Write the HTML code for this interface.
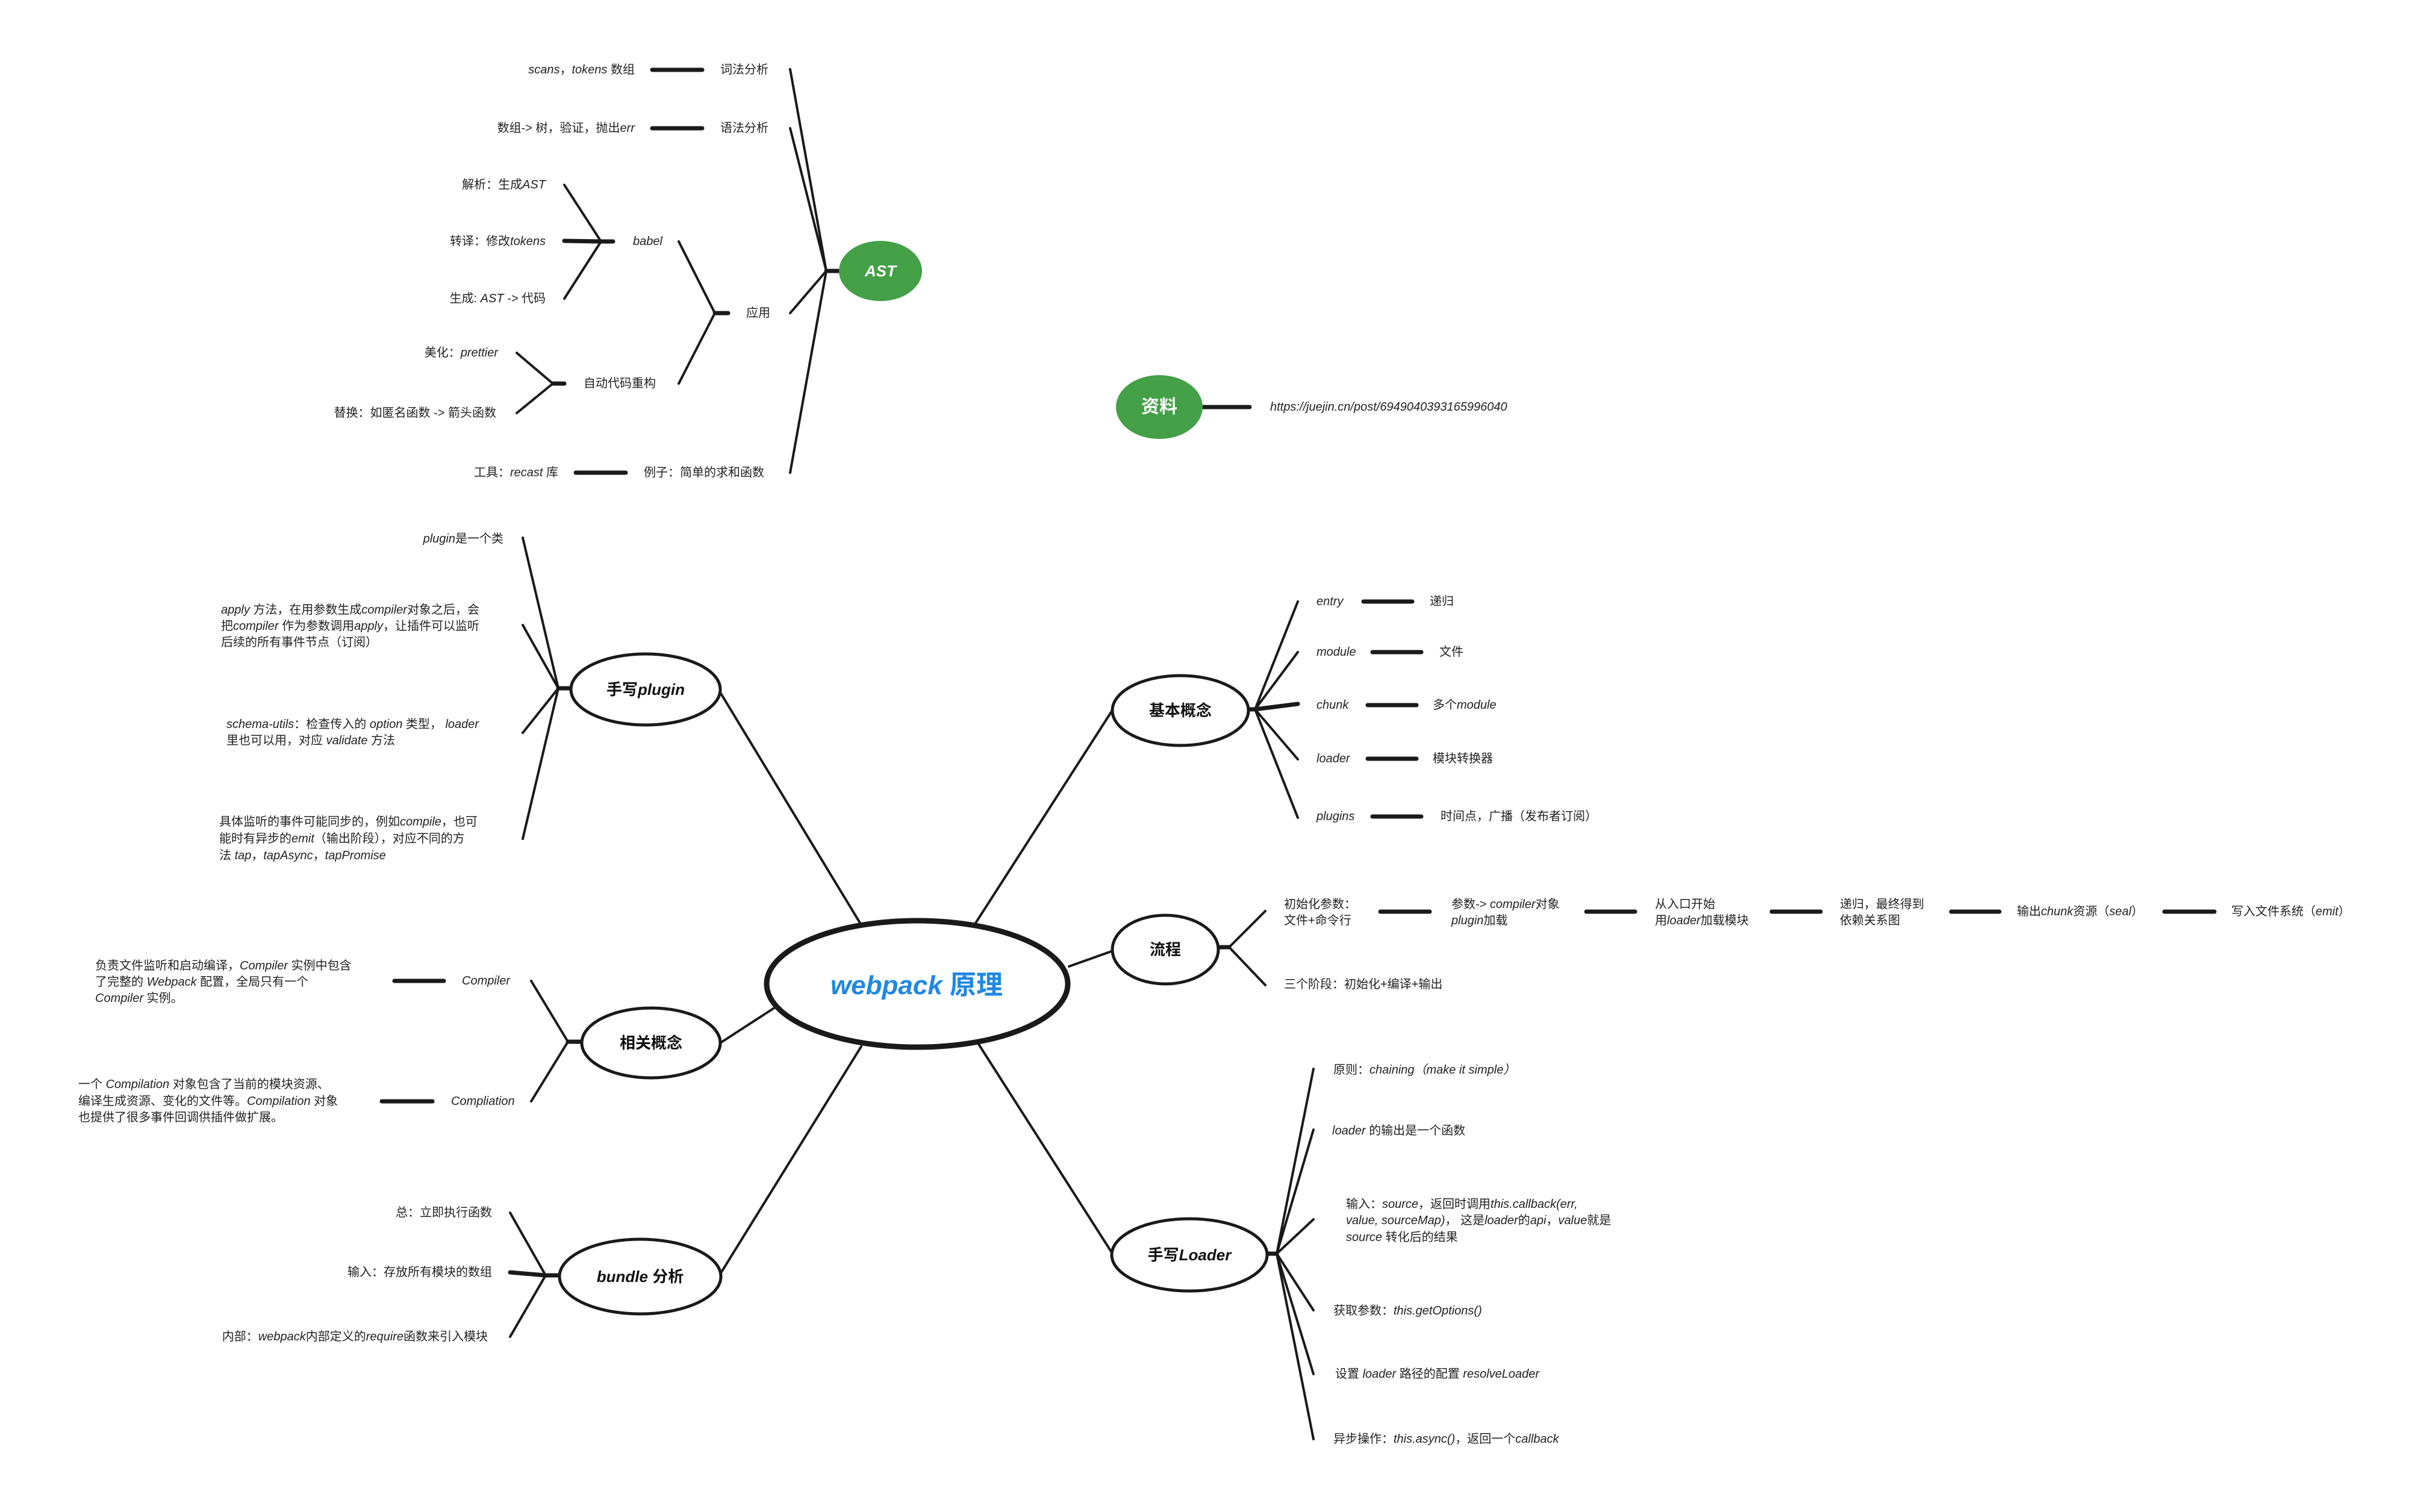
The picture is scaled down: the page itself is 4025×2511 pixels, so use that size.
<!DOCTYPE html>
<html><head><meta charset="utf-8"><style>
html,body{margin:0;padding:0;background:#fff;}
svg{display:block;}
text{font-family:"Liberation Sans","Noto Sans CJK SC",sans-serif;font-size:20px;fill:#222;dominant-baseline:central;}
.i{font-style:italic;}
.b{font-weight:bold;fill:#111;}
</style></head><body>
<svg width="4025" height="2511" viewBox="0 0 4025 2511" xmlns="http://www.w3.org/2000/svg">
<g stroke="#1a1a1a" stroke-linecap="round" fill="none">
<!-- AST -->
<g stroke-width="4">
<line x1="1372" y1="450" x2="1312" y2="115"/>
<line x1="1372" y1="450" x2="1312" y2="213"/>
<line x1="1372" y1="450" x2="1312" y2="520"/>
<line x1="1372" y1="450" x2="1312" y2="785"/>
<line x1="1187" y1="520" x2="1127" y2="401"/>
<line x1="1187" y1="520" x2="1127" y2="637"/>
<line x1="998" y1="401" x2="937" y2="307"/>
<line x1="998" y1="401" x2="937" y2="496"/>
<line x1="918" y1="637" x2="858" y2="586"/>
<line x1="918" y1="637" x2="858" y2="686"/>
</g>
<g stroke-width="7">
<line x1="1372" y1="450" x2="1395" y2="450"/>
<line x1="1083" y1="116" x2="1166" y2="116"/>
<line x1="1083" y1="213" x2="1166" y2="213"/>
<line x1="956" y1="785" x2="1039" y2="785"/>
<line x1="1187" y1="520" x2="1209" y2="520"/>
<line x1="998" y1="401" x2="1018" y2="401"/>
<line x1="998" y1="401" x2="937" y2="400"/>
<line x1="918" y1="637" x2="937" y2="637"/>
<line x1="1997" y1="676" x2="2075" y2="676"/>
</g>
<!-- main branches -->
<g stroke-width="4">
<line x1="1196" y1="1150" x2="1430" y2="1536"/>
<line x1="1196" y1="1732" x2="1287" y2="1673"/>
<line x1="1197" y1="2114" x2="1430" y2="1738"/>
<line x1="1618" y1="1536" x2="1848" y2="1178"/>
<line x1="1775" y1="1605" x2="1848" y2="1579"/>
<line x1="1623" y1="1731" x2="1846" y2="2080"/>
<!-- plugin -->
<line x1="927" y1="1143" x2="868" y2="893"/>
<line x1="927" y1="1143" x2="868" y2="1038"/>
<line x1="927" y1="1143" x2="868" y2="1217"/>
<line x1="927" y1="1143" x2="868" y2="1393"/>
<!-- 相关概念 -->
<line x1="943" y1="1730" x2="882" y2="1629"/>
<line x1="943" y1="1730" x2="882" y2="1829"/>
<!-- bundle -->
<line x1="906" y1="2118" x2="847" y2="2014"/>
<line x1="906" y1="2118" x2="847" y2="2220"/>
<!-- 基本概念 -->
<line x1="2084" y1="1178" x2="2155" y2="999"/>
<line x1="2084" y1="1178" x2="2155" y2="1083"/>
<line x1="2084" y1="1178" x2="2155" y2="1261"/>
<line x1="2084" y1="1178" x2="2155" y2="1358"/>
<!-- 流程 -->
<line x1="2041" y1="1573" x2="2101" y2="1513"/>
<line x1="2041" y1="1573" x2="2101" y2="1636"/>
<!-- loader -->
<line x1="2120" y1="2082" x2="2181" y2="1775"/>
<line x1="2120" y1="2082" x2="2181" y2="1876"/>
<line x1="2120" y1="2082" x2="2181" y2="2025"/>
<line x1="2120" y1="2082" x2="2181" y2="2176"/>
<line x1="2120" y1="2082" x2="2181" y2="2282"/>
<line x1="2120" y1="2082" x2="2181" y2="2390"/>
</g>
<g stroke-width="7">
<line x1="927" y1="1143" x2="949" y2="1143"/>
<line x1="943" y1="1730" x2="966" y2="1730"/>
<line x1="655" y1="1629" x2="737" y2="1629"/>
<line x1="634" y1="1829" x2="718" y2="1829"/>
<line x1="906" y1="2118" x2="929" y2="2118"/>
<line x1="906" y1="2118" x2="847" y2="2113"/>
<line x1="2074" y1="1178" x2="2084" y2="1178"/>
<line x1="2084" y1="1178" x2="2155" y2="1169"/>
<line x1="2264" y1="999" x2="2345" y2="999"/>
<line x1="2279" y1="1083" x2="2360" y2="1083"/>
<line x1="2271" y1="1171" x2="2352" y2="1171"/>
<line x1="2271" y1="1260" x2="2352" y2="1260"/>
<line x1="2279" y1="1356" x2="2360" y2="1356"/>
<line x1="2023" y1="1573" x2="2041" y2="1573"/>
<line x1="2292" y1="1514" x2="2374" y2="1514"/>
<line x1="2634" y1="1514" x2="2715" y2="1514"/>
<line x1="2942" y1="1514" x2="3023" y2="1514"/>
<line x1="3240" y1="1514" x2="3320" y2="1514"/>
<line x1="3594" y1="1514" x2="3677" y2="1514"/>
<line x1="2103" y1="2082" x2="2120" y2="2082"/>
</g>
<!-- ellipses -->
<g fill="#fff" stroke-width="5">
<ellipse cx="1072" cy="1145" rx="124" ry="59"/>
<ellipse cx="1081" cy="1732" rx="115" ry="58"/>
<ellipse cx="1063" cy="2120" rx="134" ry="62"/>
<ellipse cx="1960" cy="1180" rx="113" ry="58"/>
<ellipse cx="1935" cy="1577" rx="88" ry="57"/>
<ellipse cx="1975" cy="2084" rx="129" ry="60"/>
</g>
<ellipse cx="1523" cy="1634" rx="250" ry="105" fill="#fff" stroke-width="9"/>
</g>
<ellipse cx="1462" cy="450" rx="69" ry="50" fill="#43a047"/>
<ellipse cx="1925" cy="676" rx="72" ry="53" fill="#43a047"/>

<!-- node labels -->
<text x="1462" y="450" text-anchor="middle" class="b i" style="fill:#fff;font-size:26px">AST</text>
<text x="1925" y="676" text-anchor="middle" class="b" style="fill:#fff;font-size:30px">资料</text>
<text x="1522" y="1636" text-anchor="middle" class="b" style="fill:#1e88e5;font-size:44px"><tspan class="i">webpack</tspan> 原理</text>
<text x="1072" y="1145" text-anchor="middle" class="b" style="font-size:26px">手写<tspan class="i">plugin</tspan></text>
<text x="1081" y="1732" text-anchor="middle" class="b" style="font-size:26px">相关概念</text>
<text x="1063" y="2120" text-anchor="middle" class="b" style="font-size:26px"><tspan class="i">bundle</tspan> 分析</text>
<text x="1960" y="1180" text-anchor="middle" class="b" style="font-size:26px">基本概念</text>
<text x="1935" y="1577" text-anchor="middle" class="b" style="font-size:26px">流程</text>
<text x="1975" y="2084" text-anchor="middle" class="b" style="font-size:26px">手写<tspan class="i">Loader</tspan></text>

<!-- AST texts -->
<text x="1196" y="116">词法分析</text>
<text x="1196" y="213">语法分析</text>
<text x="1054" y="116" text-anchor="end"><tspan class="i">scans</tspan>，<tspan class="i">tokens</tspan> 数组</text>
<text x="1054" y="213" text-anchor="end">数组-&gt; 树，验证，抛出<tspan class="i">err</tspan></text>
<text x="1239" y="520">应用</text>
<text x="1051" y="401" class="i">babel</text>
<text x="906" y="307" text-anchor="end">解析：生成<tspan class="i">AST</tspan></text>
<text x="906" y="401" text-anchor="end">转译：修改<tspan class="i">tokens</tspan></text>
<text x="906" y="496" text-anchor="end">生成: <tspan class="i">AST -&gt;</tspan> 代码</text>
<text x="969" y="637">自动代码重构</text>
<text x="827" y="586" text-anchor="end">美化：<tspan class="i">prettier</tspan></text>
<text x="824" y="686" text-anchor="end">替换：如匿名函数 -&gt; 箭头函数</text>
<text x="1069" y="785">例子：简单的求和函数</text>
<text x="927" y="785" text-anchor="end">工具：<tspan class="i">recast</tspan> 库</text>
<text x="2109" y="676" class="i">https://juejin.cn/post/6949040393165996040</text>

<!-- plugin texts -->
<text x="836" y="895" text-anchor="end"><tspan class="i">plugin</tspan>是一个类</text>
<text x="367" y="1013"><tspan class="i">apply</tspan> 方法，在用参数生成<tspan class="i">compiler</tspan>对象之后，会</text>
<text x="367" y="1040">把<tspan class="i">compiler</tspan> 作为参数调用<tspan class="i">apply</tspan>，让插件可以监听</text>
<text x="367" y="1067">后续的所有事件节点（订阅）</text>
<text x="376" y="1203"><tspan class="i">schema-utils</tspan>：检查传入的 <tspan class="i">option</tspan> 类型， <tspan class="i">loader</tspan></text>
<text x="376" y="1230">里也可以用，对应 <tspan class="i">validate</tspan> 方法</text>
<text x="364" y="1365">具体监听的事件可能同步的，例如<tspan class="i">compile</tspan>，也可</text>
<text x="364" y="1393">能时有异步的<tspan class="i">emit</tspan>（输出阶段），对应不同的方</text>
<text x="364" y="1421">法 <tspan class="i">tap</tspan>，<tspan class="i">tapAsync</tspan>，<tspan class="i">tapPromise</tspan></text>

<!-- 相关概念 texts -->
<text x="767" y="1629" class="i">Compiler</text>
<text x="158" y="1604">负责文件监听和启动编译，<tspan class="i">Compiler</tspan> 实例中包含</text>
<text x="158" y="1631">了完整的 <tspan class="i">Webpack</tspan> 配置，全局只有一个</text>
<text x="158" y="1658"><tspan class="i">Compiler</tspan> 实例。</text>
<text x="749" y="1829" class="i">Compliation</text>
<text x="130" y="1801">一个 <tspan class="i">Compilation</tspan> 对象包含了当前的模块资源、</text>
<text x="130" y="1829">编译生成资源、变化的文件等。<tspan class="i">Compilation</tspan> 对象</text>
<text x="130" y="1856">也提供了很多事件回调供插件做扩展。</text>

<!-- bundle texts -->
<text x="817" y="2014" text-anchor="end">总：立即执行函数</text>
<text x="817" y="2113" text-anchor="end">输入：存放所有模块的数组</text>
<text x="810" y="2220" text-anchor="end">内部：<tspan class="i">webpack</tspan>内部定义的<tspan class="i">require</tspan>函数来引入模块</text>

<!-- 基本概念 texts -->
<text x="2186" y="999" class="i">entry</text>
<text x="2374" y="999">递归</text>
<text x="2186" y="1083" class="i">module</text>
<text x="2390" y="1083">文件</text>
<text x="2186" y="1171" class="i">chunk</text>
<text x="2379" y="1171">多个<tspan class="i">module</tspan></text>
<text x="2186" y="1260" class="i">loader</text>
<text x="2379" y="1260">模块转换器</text>
<text x="2186" y="1356" class="i">plugins</text>
<text x="2392" y="1356">时间点，广播（发布者订阅）</text>

<!-- 流程 texts -->
<text x="2132" y="1502">初始化参数：</text>
<text x="2132" y="1529">文件+命令行</text>
<text x="2410" y="1502">参数-&gt; <tspan class="i">compiler</tspan>对象</text>
<text x="2410" y="1529"><tspan class="i">plugin</tspan>加载</text>
<text x="2748" y="1502">从入口开始</text>
<text x="2748" y="1529">用<tspan class="i">loader</tspan>加载模块</text>
<text x="3055" y="1502">递归，最终得到</text>
<text x="3055" y="1529">依赖关系图</text>
<text x="3349" y="1514">输出<tspan class="i">chunk</tspan>资源（<tspan class="i">seal</tspan>）</text>
<text x="3705" y="1514">写入文件系统（<tspan class="i">emit</tspan>）</text>
<text x="2132" y="1635">三个阶段：初始化+编译+输出</text>

<!-- loader texts -->
<text x="2214" y="1777">原则：<tspan class="i">chaining（make it simple）</tspan></text>
<text x="2212" y="1878"><tspan class="i">loader</tspan> 的输出是一个函数</text>
<text x="2235" y="2000">输入：<tspan class="i">source</tspan>，返回时调用<tspan class="i">this.callback(err,</tspan></text>
<text x="2235" y="2027"><tspan class="i">value, sourceMap)</tspan>， 这是<tspan class="i">loader</tspan>的<tspan class="i">api</tspan>，<tspan class="i">value</tspan>就是</text>
<text x="2235" y="2055"><tspan class="i">source</tspan> 转化后的结果</text>
<text x="2214" y="2177">获取参数：<tspan class="i">this.getOptions()</tspan></text>
<text x="2217" y="2282">设置 <tspan class="i">loader</tspan> 路径的配置 <tspan class="i">resolveLoader</tspan></text>
<text x="2214" y="2390">异步操作：<tspan class="i">this.async()</tspan>，返回一个<tspan class="i">callback</tspan></text>
</svg>
</body></html>
